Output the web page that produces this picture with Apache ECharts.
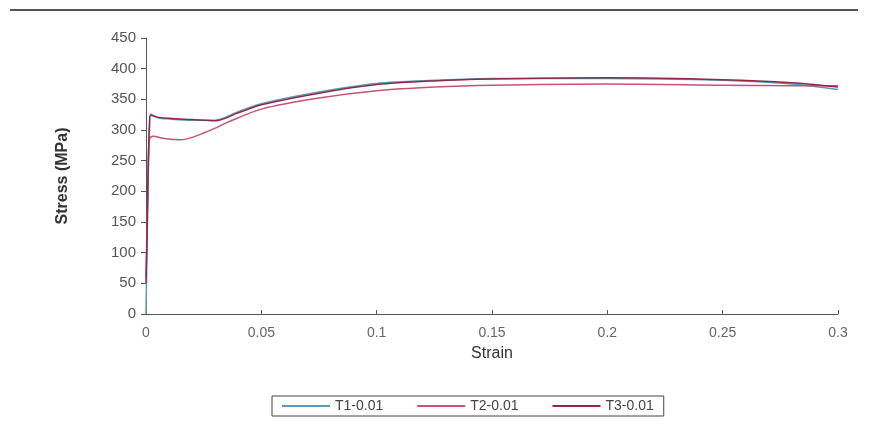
<!DOCTYPE html>
<html>
<head>
<meta charset="utf-8">
<script src="https://cdn.jsdelivr.net/npm/echarts@6/dist/echarts.min.js"></script>
<style>html,body{margin:0;padding:0;background:#fff}#c{width:876px;height:440px}</style>
</head>
<body>
<div id="c"></div>
<script>
const seriesNames = ['T1-0.01', 'T2-0.01', 'T3-0.01'];
const xTicks = [0, 0.05, 0.1, 0.15, 0.2, 0.25, 0.3];
const yTicks = [0, 50, 100, 150, 200, 250, 300, 350, 400, 450];
const t1Strain = [0, 0.0005, 0.001, 0.0015, 0.002, 0.005, 0.01, 0.02, 0.03, 0.04, 0.05, 0.075, 0.1, 0.125, 0.15, 0.2, 0.25, 0.28, 0.3];
const t1Stress = [0, 120, 230, 300, 326, 320, 318, 316, 316, 330, 343, 362, 376, 381, 384, 384, 381, 375, 366];
const t2Strain = [0, 0.0005, 0.001, 0.0015, 0.003, 0.008, 0.015, 0.02, 0.025, 0.03, 0.035, 0.05, 0.075, 0.1, 0.125, 0.15, 0.2, 0.25, 0.28, 0.3];
const t2Stress = [60, 150, 240, 285, 290, 286, 284, 288, 295, 303, 312, 334, 352, 364, 370, 373, 375, 373, 372, 372];
const t3Strain = [0, 0.0005, 0.001, 0.0015, 0.002, 0.005, 0.01, 0.02, 0.03, 0.04, 0.05, 0.075, 0.1, 0.125, 0.15, 0.2, 0.25, 0.28, 0.3];
const t3Stress = [50, 140, 250, 310, 324, 321, 319, 317, 315, 328, 341, 360, 374, 380, 383, 385, 382, 377, 370];
const colors = ['#5b9bb8', '#c8507a', '#8c2a4a'];

function pairs(xs, ys) { return xs.map((x, i) => [x, ys[i]]); }

const chart = echarts.init(document.getElementById('c'), null, {renderer: 'canvas'});
const font = 'Liberation Sans, Arial, sans-serif';
chart.setOption({
  backgroundColor: '#fff',
  animation: false,
  grid: {left: 146, right: 38, top: 38, bottom: 126, containLabel: false},
  xAxis: {
    type: 'value', min: 0, max: 0.3, interval: 0.05,
    name: 'Strain', nameLocation: 'middle', nameGap: 32,
    nameTextStyle: {fontFamily: font, fontSize: 16, color: '#333'},
    axisLine: {show: true, lineStyle: {color: '#555', width: 1}},
    axisTick: {show: true, inside: true, length: 4, lineStyle: {color: '#555'}},
    axisLabel: {fontFamily: font, fontSize: 14, color: '#666', margin: 12,
      formatter: v => String(parseFloat(v.toFixed(2)))},
    splitLine: {show: false}
  },
  yAxis: {
    type: 'value', min: 0, max: 450, interval: 50,
    name: 'Stress (MPa)', nameLocation: 'middle', nameGap: 75,
    nameTextStyle: {fontFamily: font, fontSize: 16, color: '#333', fontWeight: 'bold'},
    axisLine: {show: true, lineStyle: {color: '#555', width: 1}},
    axisTick: {show: true, length: 5, lineStyle: {color: '#555'}},
    axisLabel: {fontFamily: font, fontSize: 15, color: '#555', margin: 10},
    splitLine: {show: false}
  },
  legend: {
    data: seriesNames,
    left: 272, top: 396, width: 396,
    itemWidth: 48, itemHeight: 2, itemGap: 34,
    icon: 'rect',
    borderColor: '#444', borderWidth: 1, padding: [3, 10, 3, 10],
    textStyle: {fontFamily: font, fontSize: 14, color: '#444'}
  },
  graphic: [{
    type: 'line', shape: {x1: 10, y1: 10, x2: 858, y2: 10},
    style: {stroke: '#555', lineWidth: 2}, silent: true
  }],
  series: [
    {name: seriesNames[0], type: 'line', data: pairs(t1Strain, t1Stress), showSymbol: false, smooth: 0.3,
      lineStyle: {color: colors[0], width: 1.5}, itemStyle: {color: colors[0]}},
    {name: seriesNames[1], type: 'line', data: pairs(t2Strain, t2Stress), showSymbol: false, smooth: 0.3,
      lineStyle: {color: colors[1], width: 1.5}, itemStyle: {color: colors[1]}},
    {name: seriesNames[2], type: 'line', data: pairs(t3Strain, t3Stress), showSymbol: false, smooth: 0.3,
      lineStyle: {color: colors[2], width: 1.5}, itemStyle: {color: colors[2]}}
  ]
});
</script>
</body>
</html>
